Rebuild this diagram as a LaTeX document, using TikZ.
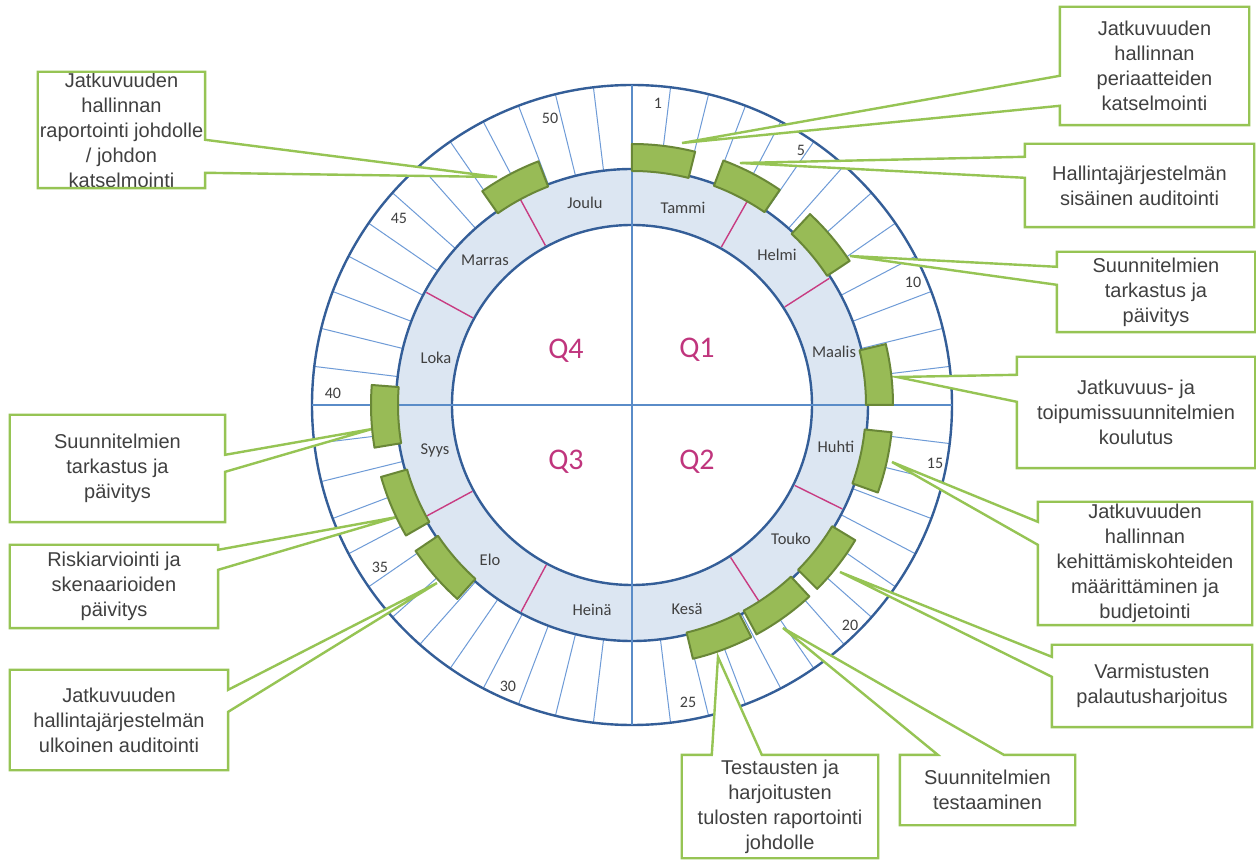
\documentclass[tikz,border=0pt]{standalone}
\usepackage{fontspec}
\setmainfont{Liberation Sans}
\newfontfamily\calfont{Carlito}
\usetikzlibrary{calc}
\definecolor{circblue}{RGB}{52,94,152}
\definecolor{qblue}{RGB}{90,140,200}
\definecolor{spokeblue}{RGB}{110,155,215}
\definecolor{ringfill}{RGB}{220,230,242}
\definecolor{sepred}{RGB}{200,60,130}
\definecolor{gfill}{RGB}{152,187,86}
\definecolor{gedge}{RGB}{105,135,55}
\definecolor{callgreen}{RGB}{150,196,84}
\definecolor{txt}{RGB}{64,64,64}
\definecolor{qcol}{RGB}{192,53,125}
\tikzset{
  circ/.style={draw=circblue, line width=2.4pt},
  quad/.style={draw=qblue, line width=2.6pt},
  spoke/.style={draw=spokeblue, line width=1pt},
  sepline/.style={draw=sepred, line width=1.4pt},
  gsec/.style={fill=gfill, draw=gedge, line width=2pt, line join=round},
  box/.style={rectangle, fill=white, inner sep=0pt, align=center, text=txt,
    font=\fontsize{20}{25}\selectfont},
  wedgefill/.style={fill=white, draw=none},
  callout/.style={draw=callgreen, line width=2.4pt, line join=miter},
  month/.style={font=\calfont\fontsize{16.5}{20}\selectfont, text=txt, inner sep=0pt},
  weeknum/.style={font=\calfont\fontsize{16}{19}\selectfont, text=txt, inner sep=0pt},
  qlab/.style={font=\calfont\fontsize{30}{36}\selectfont, text=qcol, inner sep=0pt}
}
\begin{document}
\begin{tikzpicture}[x=1pt,y=1pt]
\useasboundingbox[fill=white] (-632,-456) rectangle (624,405);
% month ring
\fill[ringfill, even odd rule] (0,0) circle (236) (0,0) circle (180);
% week spokes
\foreach \k in {1,...,51}
  \draw[spoke] ({90-\k*6.9230769}:236) -- ({90-\k*6.9230769}:320);
% circles
\draw[circ] (0,0) circle (320);
\draw[circ] (0,0) circle (236);
\draw[circ] (0,0) circle (180);
% quadrant lines
\draw[quad] (0,320) -- (0,-320);
\draw[quad] (-320,0) -- (320,0);
% month separators
\foreach \a in {60.5,32.7,-26.3,-57.1,-118.2,-151.6,151.3,118.5}
  \draw[sepline] (\a:181.5) -- (\a:234.5);
% month labels
\node[month] (m1) at (51,197) {Tammi};
\node[month] (m2) at (145,150) {Helmi};
\node[month] (m3) at (202,53) {Maalis};
\node[month] (m4) at (204,-42) {Huhti};
\node[month] (m5) at (159,-134) {Touko};
\node[month] (m6) at (55,-204) {Kesä};
\node[month] (m7) at (-40,-205) {Heinä};
\node[month] (m8) at (-142,-155) {Elo};
\node[month] (m9) at (-197,-45) {Syys};
\node[month] (m10) at (-196,47) {Loka};
\node[month] (m11) at (-147,145) {Marras};
\node[month] (m12) at (-47,202) {Joulu};
% week numbers
\node[weeknum] (w1) at (26,302) {1};
\node[weeknum] (w5) at (169,255) {5};
\node[weeknum] (w10) at (281,123) {10};
\node[weeknum] (w15) at (303,-58) {15};
\node[weeknum] (w20) at (218,-220) {20};
\node[weeknum] (w25) at (56,-297) {25};
\node[weeknum] (w30) at (-124,-281) {30};
\node[weeknum] (w35) at (-252,-162) {35};
\node[weeknum] (w40) at (-299,12) {40};
\node[weeknum] (w45) at (-233,187) {45};
\node[weeknum] (w50) at (-82,287) {50};
% quarter labels
\node[qlab] (q1) at (65,55) {Q1};
\node[qlab] (q2) at (65,-57) {Q2};
\node[qlab] (q3) at (-66,-57) {Q3};
\node[qlab] (q4) at (-66,54) {Q4};

% ---------- callouts ----------
% tips
\coordinate (t1) at (50,262);
\coordinate (t2) at (108,242);
\coordinate (t3) at (218,149);
\coordinate (t4) at (265,28);
\coordinate (t5) at (260,-57);
\coordinate (t6) at (208,-167);
\coordinate (t7) at (151,-223);
\coordinate (t8) at (86,-252);
\coordinate (t9) at (-195,-178);
\coordinate (t10) at (-235,-112);
\coordinate (t11) at (-260,-24);
\coordinate (t12) at (-135,228);

% boxes
\node[box, minimum width=189pt, minimum height=118pt] (b1) at (522.5,339)
  {Jatkuvuuden\\hallinnan\\periaatteiden\\katselmointi};
\node[box, minimum width=229pt, minimum height=83pt] (b2) at (507.5,219.5)
  {Hallintajärjestelmän\\sisäinen auditointi};
\node[box, minimum width=198pt, minimum height=80pt] (b3) at (524,113)
  {Suunnitelmien\\tarkastus ja\\päivitys};
\node[box, minimum width=238pt, minimum height=111pt] (b4) at (504,-7.5)
  {Jatkuvuus- ja\\toipumissuunnitelmien\\koulutus};
\node[box, minimum width=214pt, minimum height=123pt] (b5) at (513,-158.5)
  {Jatkuvuuden\\hallinnan\\kehittämiskohteiden\\määrittäminen ja\\budjetointi};
\node[box, minimum width=200pt, minimum height=82pt] (b6) at (520,-281)
  {Varmistusten\\palautusharjoitus};
\node[box, minimum width=175pt, minimum height=70pt] (b7) at (355.5,-385)
  {Suunnitelmien\\testaaminen};
\node[box, minimum width=196pt, minimum height=103pt] (b8) at (148,-401.5)
  {Testausten ja\\harjoitusten\\tulosten raportointi\\johdolle};
\node[box, minimum width=218pt, minimum height=100pt] (b9) at (-513,-315)
  {Jatkuvuuden\\hallintajärjestelmän\\ulkoinen auditointi};
\node[box, minimum width=208pt, minimum height=83pt] (b10) at (-518,-181.5)
  {Riskiarviointi ja\\skenaarioiden\\päivitys};
\node[box, minimum width=215pt, minimum height=107pt] (b11) at (-514.5,-63.5)
  {Suunnitelmien\\tarkastus ja\\päivitys};
\node[box, minimum width=167pt, minimum height=116pt] (b12) at (-510.5,275)
  {Jatkuvuuden\\hallinnan\\raportointi johdolle\\/ johdon\\katselmointi};

% wedge base points
\coordinate (a1) at ($(b1.north west)+(0,-69)$);  \coordinate (c1) at ($(b1.north west)+(0,-99)$);
\coordinate (a2) at ($(b2.north west)+(0,-13)$);  \coordinate (c2) at ($(b2.north west)+(0,-34)$);
\coordinate (a3) at ($(b3.north west)+(0,-15)$);  \coordinate (c3) at ($(b3.north west)+(0,-33)$);
\coordinate (a4) at ($(b4.north west)+(0,-18)$);  \coordinate (c4) at ($(b4.north west)+(0,-45)$);
\coordinate (a5) at ($(b5.north west)+(0,-20)$);  \coordinate (c5) at ($(b5.north west)+(0,-43)$);
\coordinate (a6) at ($(b6.north west)+(0,-12)$);  \coordinate (c6) at ($(b6.north west)+(0,-32)$);
\coordinate (a7) at ($(b7.north west)+(38,0)$);   \coordinate (c7) at ($(b7.north west)+(104,0)$);
\coordinate (a8) at ($(b8.north west)+(30,0)$);   \coordinate (c8) at ($(b8.north west)+(80,0)$);
\coordinate (a9) at ($(b9.north east)+(0,-20)$);  \coordinate (c9) at ($(b9.north east)+(0,-42)$);
\coordinate (a10) at ($(b10.north east)+(0,-5)$); \coordinate (c10) at ($(b10.north east)+(0,-25)$);
\coordinate (a11) at ($(b11.north east)+(0,-40)$);\coordinate (c11) at ($(b11.north east)+(0,-57)$);
\coordinate (a12) at ($(b12.north east)+(0,-68)$);\coordinate (c12) at ($(b12.north east)+(0,-101)$);

% wedge fills
\foreach \i in {1,...,12}
  \fill[wedgefill] (a\i) -- (t\i) -- (c\i) -- cycle;

% outlines: boxes with wedge on west side
\foreach \i in {1,...,6}
  \draw[callout] (b\i.north west) -- (b\i.north east) -- (b\i.south east)
    -- (b\i.south west) -- (c\i) -- (t\i) -- (a\i) -- cycle;
% wedge on north side
\foreach \i in {7,8}
  \draw[callout] (b\i.north west) -- (a\i) -- (t\i) -- (c\i) -- (b\i.north east)
    -- (b\i.south east) -- (b\i.south west) -- cycle;
% wedge on east side
\foreach \i in {9,...,12}
  \draw[callout] (b\i.north west) -- (b\i.north east) -- (a\i) -- (t\i) -- (c\i)
    -- (b\i.south east) -- (b\i.south west) -- cycle;

% green activity segments
\foreach \a/\b in {76/90, 55.5/69.5, 33.5/47, 0/13.5, -19.6/-6, -44.8/-31.2,
                   -61.5/-47.2, -76.5/-62.8, -146/-132, -164/-150, 175.6/189.4, 111/125}
  \draw[gsec] (\a:234) arc[start angle=\a, end angle=\b, radius=234]
    -- (\b:261) arc[start angle=\b, end angle=\a, radius=261] -- cycle;
\end{tikzpicture}
\end{document}
